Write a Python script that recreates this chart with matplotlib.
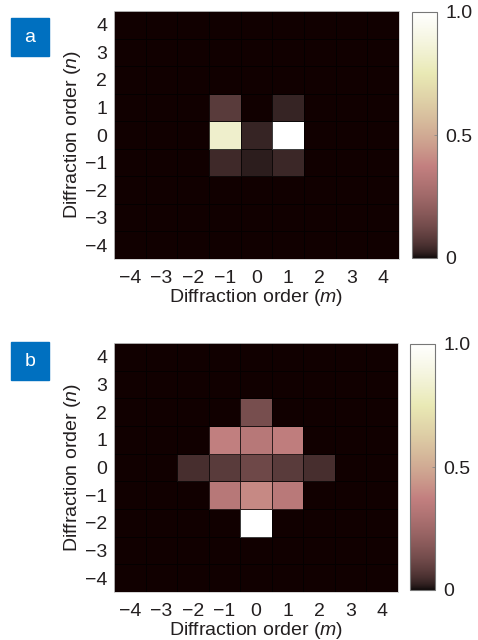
import numpy as np
import matplotlib
matplotlib.use("Agg")
import matplotlib.pyplot as plt
from matplotlib.colors import ListedColormap

plt.rcParams['font.family'] = ['Liberation Sans', 'DejaVu Sans']
plt.rcParams['mathtext.fontset'] = 'custom'
plt.rcParams['mathtext.it'] = 'Liberation Sans:italic'
plt.rcParams['mathtext.rm'] = 'Liberation Sans'

orders = [-4, -3, -2, -1, 0, 1, 2, 3, 4]
tick_labels = ['\u22124', '\u22123', '\u22122', '\u22121', '0', '1', '2', '3', '4']
bg = 0.0

# rows: n = -4 ... 4 ; columns: m = -4 ... 4
panel_a = [
    [bg, bg, bg, bg, bg, bg, bg, bg, bg],      # n=-4
    [bg, bg, bg, bg, bg, bg, bg, bg, bg],      # n=-3
    [bg, bg, bg, bg, bg, bg, bg, bg, bg],      # n=-2
    [bg, bg, bg, 0.04, 0.02, 0.035, bg, bg, bg],  # n=-1
    [bg, bg, bg, 0.82, 0.03, 1.0, bg, bg, bg],    # n=0
    [bg, bg, bg, 0.08, bg, 0.03, bg, bg, bg],     # n=1
    [bg, bg, bg, bg, bg, bg, bg, bg, bg],      # n=2
    [bg, bg, bg, bg, bg, bg, bg, bg, bg],      # n=3
    [bg, bg, bg, bg, bg, bg, bg, bg, bg],      # n=4
]
panel_b = [
    [bg, bg, bg, bg, bg, bg, bg, bg, bg],      # n=-4
    [bg, bg, bg, bg, bg, bg, bg, bg, bg],      # n=-3
    [bg, bg, bg, bg, 1.0, bg, bg, bg, bg],     # n=-2
    [bg, bg, bg, 0.33, 0.40, 0.34, bg, bg, bg],   # n=-1
    [bg, bg, 0.05, 0.08, 0.12, 0.08, 0.05, bg, bg],  # n=0
    [bg, bg, bg, 0.37, 0.33, 0.36, bg, bg, bg],   # n=1
    [bg, bg, bg, bg, 0.14, bg, bg, bg, bg],    # n=2
    [bg, bg, bg, bg, bg, bg, bg, bg, bg],      # n=3
    [bg, bg, bg, bg, bg, bg, bg, bg, bg],      # n=4
]
cbar_ticks = [0, 0.5, 1.0]
cbar_labels = ['0', '0.5', '1.0']

# MATLAB-style pink colormap (dark-red floor)
x = np.linspace(0, 1, 1024)
hr = np.clip(x / 0.375, 0, 1)
hg = np.clip((x - 0.375) / 0.375, 0, 1)
hb = np.clip((x - 0.75) / 0.25, 0, 1)
rgb = np.sqrt((2 * x[:, None] + np.stack([hr, hg, hb], axis=1)) / 3)
rgb[:, 0] = np.maximum(rgb[:, 0], 0.065)
cmap = ListedColormap(rgb)

W, H = 478, 640
fig = plt.figure(figsize=(W / 100, H / 100), dpi=100)

def px(l, t, r, b):
    return [l / W, 1 - b / H, (r - l) / W, (b - t) / H]

txtc = '#231f20'
fs = 14
panels = [
    (panel_a, 'a', px(114, 11, 399, 259), px(412, 12, 437, 258), (11, 18)),
    (panel_b, 'b', px(114, 343, 398, 592), px(410, 344, 435, 590), (11, 342)),
]
edges = np.arange(-4.5, 5.0, 1.0)
for data, lab, axpos, cbpos, (bx, by) in panels:
    ax = fig.add_axes(axpos)
    mesh = ax.pcolormesh(edges, edges, np.array(data), cmap=cmap, vmin=0, vmax=1,
                         edgecolors=(0, 0, 0, 0.75), linewidth=0.6)
    ax.set_xlim(-4.5, 4.5)
    ax.set_ylim(-4.5, 4.5)
    ax.set_xticks(orders)
    ax.set_xticklabels(tick_labels)
    ax.set_yticks(orders)
    ax.set_yticklabels(tick_labels)
    ax.tick_params(length=0, labelsize=fs, colors=txtc)
    ax.tick_params(axis='x', pad=8)
    ax.tick_params(axis='y', pad=5)
    for s in ax.spines.values():
        s.set_color('#cccccc')
        s.set_linewidth(0.6)
    ax.set_xlabel('Diffraction order ($m$)', fontsize=fs, color=txtc, labelpad=0)
    ax.set_ylabel('Diffraction order ($n$)', fontsize=fs, color=txtc, labelpad=1)

    cax = fig.add_axes(cbpos)
    cb = fig.colorbar(mesh, cax=cax, ticks=cbar_ticks)
    cb.ax.set_yticklabels(cbar_labels)
    cb.ax.tick_params(direction='in', length=2, width=0.6, color='#888888',
                      labelsize=fs, labelcolor=txtc, pad=6)
    cb.outline.set_edgecolor('#777777')
    cb.outline.set_linewidth(0.8)

    fig.patches.append(plt.Rectangle((bx / W, 1 - (by + 38) / H), 38 / W, 38 / H,
                                     transform=fig.transFigure, color='#0070c0'))
    fig.text((bx + 19) / W, 1 - (by + 19) / H, lab, color='white', fontsize=fs,
             ha='center', va='center')

fig.savefig('out.png', dpi=100)
